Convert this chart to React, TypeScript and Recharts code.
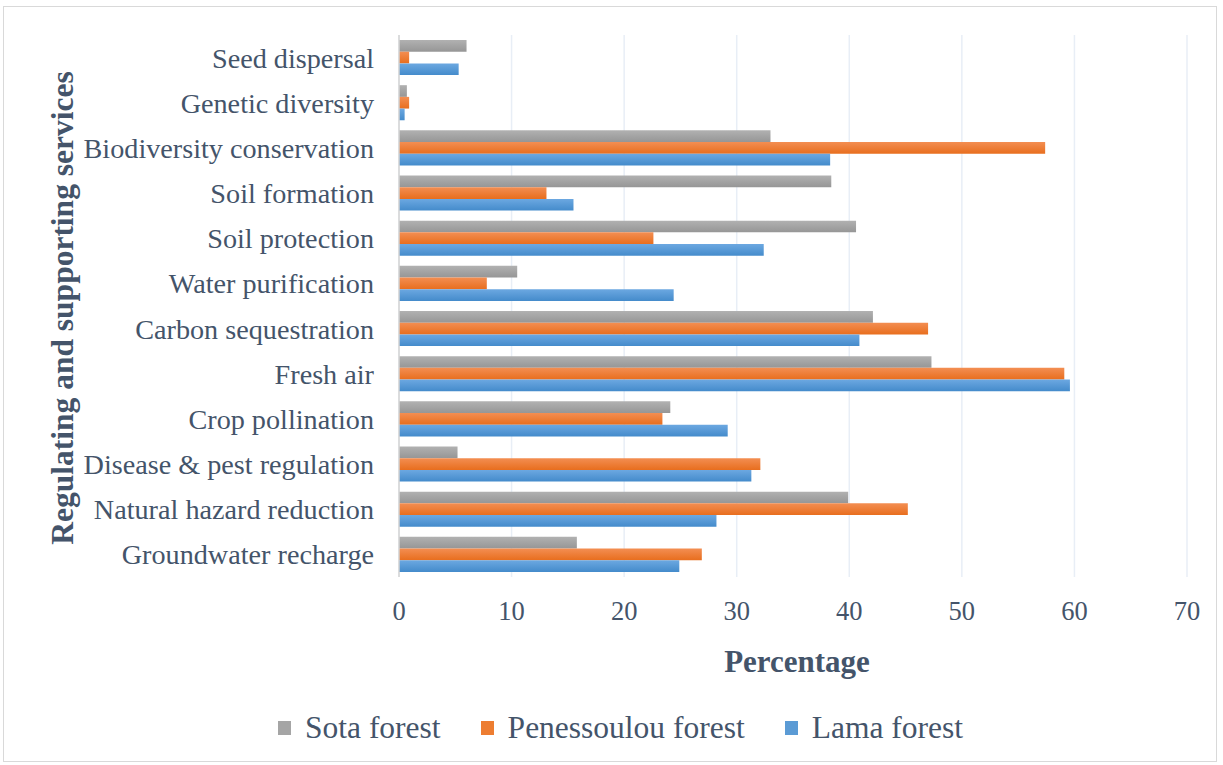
import { BarChart, Bar, XAxis, YAxis, CartesianGrid, Legend, Label } from "recharts";

const categories = [
  "Seed dispersal",
  "Genetic diversity",
  "Biodiversity conservation",
  "Soil formation",
  "Soil protection",
  "Water purification",
  "Carbon sequestration",
  "Fresh air",
  "Crop pollination",
  "Disease & pest regulation",
  "Natural hazard reduction",
  "Groundwater recharge",
];

const sotaForest = [6.0, 0.7, 33.0, 38.4, 40.6, 10.5, 42.1, 47.3, 24.1, 5.2, 39.9, 15.8];
const penessoulouForest = [0.9, 0.9, 57.4, 13.1, 22.6, 7.8, 47.0, 59.1, 23.4, 32.1, 45.2, 26.9];
const lamaForest = [5.3, 0.5, 38.3, 15.5, 32.4, 24.4, 40.9, 59.6, 29.2, 31.3, 28.2, 24.9];

const xTicks = [0, 10, 20, 30, 40, 50, 60, 70];

const TEXT = "#44546a";
const FONT = "'Liberation Serif', 'Times New Roman', serif";

const series = [
  { key: "sota", label: "Sota forest", fill: "url(#gradSota)", swatch: "#a5a5a5" },
  { key: "penessoulou", label: "Penessoulou forest", fill: "url(#gradPen)", swatch: "#ed7d31" },
  { key: "lama", label: "Lama forest", fill: "url(#gradLama)", swatch: "#5b9bd5" },
];

const rows = categories.map((name, i) => ({
  name,
  sota: sotaForest[i],
  penessoulou: penessoulouForest[i],
  lama: lamaForest[i],
}));

function LegendRow() {
  return (
    <div style={{ display: "flex", alignItems: "center", fontFamily: FONT, fontSize: 31.5, color: TEXT }}>
      {series.map((s, i) => (
        <div key={s.key} style={{ display: "flex", alignItems: "center", marginLeft: i === 0 ? 0 : 40 }}>
          <span
            style={{
              display: "inline-block",
              width: 13,
              height: 14,
              background: s.swatch,
              marginRight: 14,
            }}
          />
          <span style={{ lineHeight: "36px" }}>{s.label}</span>
        </div>
      ))}
    </div>
  );
}

export default function App() {
  return (
    <div
      style={{
        position: "absolute",
        left: 0,
        top: 0,
        width: 1223,
        height: 765,
        background: "#fff",
      }}
    >
      <div
        style={{
          position: "absolute",
          left: 3,
          top: 6,
          width: 1214,
          height: 756,
          border: "1px solid #d9d9d9",
          boxSizing: "border-box",
        }}
      />
      <BarChart
        layout="vertical"
        width={1223}
        height={765}
        data={rows}
        margin={{ top: 35, right: 36, bottom: 108, left: 0 }}
        barSize={11.7}
        barGap={0}
      >
        <defs>
          <linearGradient id="gradSota" x1="0" y1="0" x2="0" y2="1">
            <stop offset="0%" stopColor="#b1b1b1" />
            <stop offset="100%" stopColor="#969696" />
          </linearGradient>
          <linearGradient id="gradPen" x1="0" y1="0" x2="0" y2="1">
            <stop offset="0%" stopColor="#f38e52" />
            <stop offset="100%" stopColor="#e86e1e" />
          </linearGradient>
          <linearGradient id="gradLama" x1="0" y1="0" x2="0" y2="1">
            <stop offset="0%" stopColor="#6ca8e1" />
            <stop offset="100%" stopColor="#448bcb" />
          </linearGradient>
        </defs>
        <CartesianGrid horizontal={false} stroke="#e8eef6" strokeWidth={1.5} />
        <XAxis
          type="number"
          domain={[0, 70]}
          ticks={xTicks}
          axisLine={false}
          tickLine={false}
          tickSize={0}
          tickMargin={24}
          height={80}
          tick={{ fontSize: 26.5, fill: TEXT, fontFamily: FONT }}
        >
          <Label
            content={({ viewBox }: any) => (
              <text
                x={viewBox.x + viewBox.width / 2 + 4}
                y={viewBox.y + 84}
                textAnchor="middle"
                dominantBaseline="central"
                fill={TEXT}
                fontFamily={FONT}
                fontWeight="bold"
                fontSize={31}
              >
                Percentage
              </text>
            )}
          />
        </XAxis>
        <YAxis
          type="category"
          dataKey="name"
          width={399}
          interval={0}
          axisLine={{ stroke: "#d5d5d5", strokeWidth: 1.5 }}
          tickLine={false}
          tickSize={0}
          tickMargin={25}
          tick={{ fontSize: 28.2, fill: TEXT, fontFamily: FONT }}
        >
          <Label
            content={({ viewBox }: any) => {
              const cx = viewBox.x + 62;
              const cy = viewBox.y + viewBox.height / 2 + 2;
              return (
                <text
                  x={cx}
                  y={cy}
                  transform={`rotate(-90, ${cx}, ${cy})`}
                  textAnchor="middle"
                  dominantBaseline="central"
                  fill={TEXT}
                  fontFamily={FONT}
                  fontWeight="bold"
                  fontSize={31.5}
                >
                  Regulating and supporting services
                </text>
              );
            }}
          />
        </YAxis>
        <Legend
          layout="horizontal"
          verticalAlign="middle"
          align="center"
          wrapperStyle={{ top: 710, left: 278, width: "auto" }}
          content={() => <LegendRow />}
        />
        {series.map((s) => (
          <Bar key={s.key} dataKey={s.key} name={s.label} fill={s.fill} isAnimationActive={false} />
        ))}
      </BarChart>
    </div>
  );
}
